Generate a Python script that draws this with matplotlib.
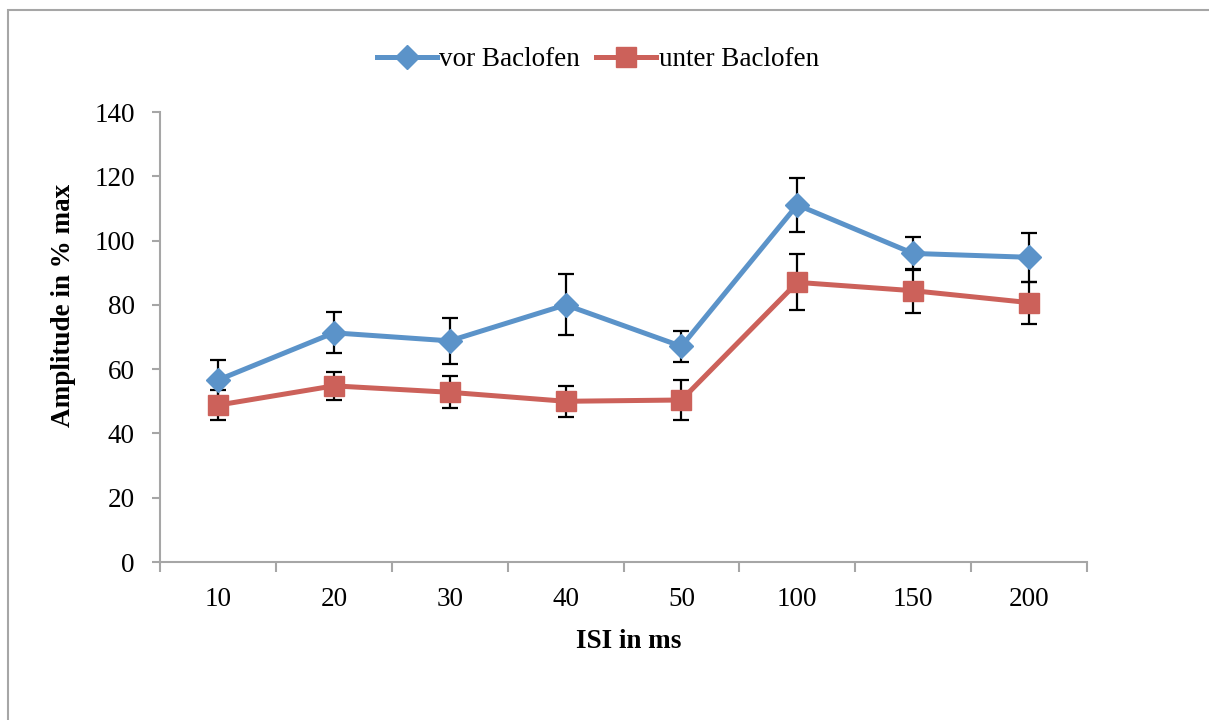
import numpy as np
import matplotlib.pyplot as plt
from matplotlib.patches import Rectangle

# ISI categories and mean amplitudes (% of max) with error bars
isi_labels = ['10', '20', '30', '40', '50', '100', '150', '200']
vor = [56.6, 71.3, 68.8, 80.0, 67.1, 111.1, 96.0, 94.8]
vor_err = [6.3, 6.4, 7.1, 9.5, 4.8, 8.5, 5.0, 7.6]
unter = [48.8, 54.8, 52.8, 50.0, 50.4, 87.0, 84.4, 80.7]
unter_err = [4.6, 4.3, 5.0, 4.8, 6.2, 8.7, 6.8, 6.5]

blue = '#5b93c9'
red = '#cc615a'
grey = '#a6a6a6'
fs = 19.5

plt.rcParams['font.family'] = ['Liberation Serif', 'DejaVu Serif']

fig = plt.figure(figsize=(12.09, 7.2), dpi=100)
ax = fig.add_axes([160 / 1209, 158 / 720, 927 / 1209, 450 / 720])

# outer chart frame
fig.patches.append(Rectangle((8 / 1209, -0.1), 1.2, 710 / 720 + 0.1,
                             transform=fig.transFigure, fill=False,
                             edgecolor=grey, linewidth=1.5))

x = np.arange(len(isi_labels))

ax.errorbar(x, vor, yerr=vor_err, fmt='none', ecolor='black',
            elinewidth=1.6, capsize=6, capthick=1.6, zorder=2)
ax.errorbar(x, unter, yerr=unter_err, fmt='none', ecolor='black',
            elinewidth=1.6, capsize=6, capthick=1.6, zorder=2)
ax.plot(x, vor, color=blue, lw=3.6, marker='D', ms=12,
        label='vor Baclofen', zorder=3)
ax.plot(x, unter, color=red, lw=3.6, marker='s', ms=15,
        label='unter Baclofen', zorder=4)

ax.set_xlim(-0.5, len(isi_labels) - 0.5)
ax.set_ylim(0, 140)
ax.set_yticks(range(0, 141, 20))
ax.set_xticks(x)
ax.set_xticklabels(isi_labels)
ax.set_xticks(np.arange(-0.5, len(isi_labels)), minor=True)

for side in ['top', 'right']:
    ax.spines[side].set_visible(False)
for side in ['left', 'bottom']:
    ax.spines[side].set_color(grey)
    ax.spines[side].set_linewidth(1.5)

ax.tick_params(axis='y', direction='out', length=6, width=1.5, color=grey,
               labelsize=fs, pad=12)
ax.tick_params(axis='x', which='major', length=0, labelsize=fs, pad=18)
ax.tick_params(axis='x', which='minor', direction='out', length=7,
               width=1.5, color=grey)

ax.set_xlabel('ISI in ms', fontsize=fs, fontweight='bold')
ax.set_ylabel('Amplitude in % max', fontsize=fs, fontweight='bold')
ax.xaxis.set_label_coords(0.506, -0.149)
ax.yaxis.set_label_coords(-0.0906, 0.571)

fig.legend(loc='center', bbox_to_anchor=(598 / 1209, 660 / 720), ncol=2,
           frameon=False, fontsize=fs, handlelength=2.2, handletextpad=0.1,
           columnspacing=0.6)

fig.savefig('out.png', dpi=100)
